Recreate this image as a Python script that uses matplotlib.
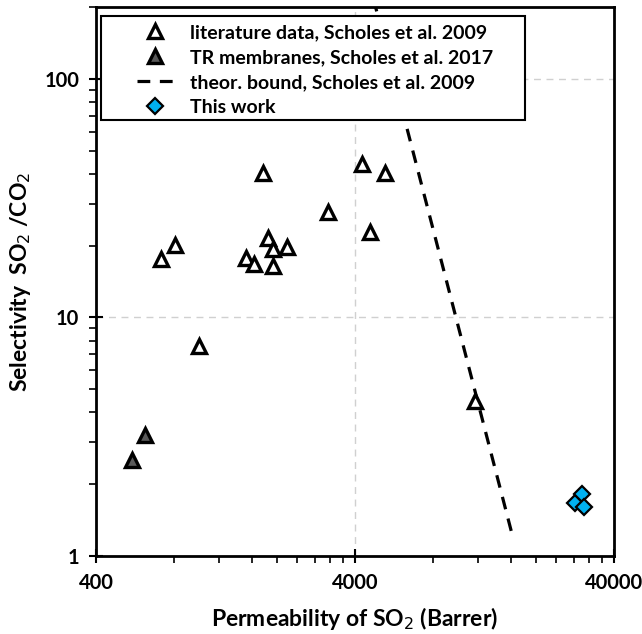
import numpy as np
import matplotlib.pyplot as plt
from matplotlib.patches import Rectangle
from matplotlib.ticker import FixedLocator, NullFormatter

plt.rcParams['font.family'] = ['Lato', 'DejaVu Sans']

# literature data, Scholes et al. 2009
lit_perm = [713, 807, 1000, 1765, 1517, 1629, 1846, 1928, 1928, 2182, 3150, 4256, 5224, 4570, 11620]
lit_sel = [17.6, 20.1, 7.6, 40.3, 17.8, 16.8, 21.5, 19.4, 16.4, 19.8, 27.7, 44.0, 40.3, 22.8, 4.47]

# TR membranes, Scholes et al. 2017
tr_perm = [618, 552]
tr_sel = [3.22, 2.53]

# upper bound line
bound_perm = [4400, 16300]
bound_sel = [290, 1.2]

# this work
tw_perm = [28250, 30250, 30700]
tw_sel = [1.67, 1.82, 1.61]

fig = plt.figure(figsize=(6.42, 6.34), dpi=100)
ax = fig.add_axes([0.1495, 0.123, 0.8065, 0.866])

ax.plot(lit_perm, lit_sel, ls='none', marker='^', ms=10, mfc='white', mec='black', mew=2.4,
        label='literature data, Scholes et al. 2009', zorder=4)
ax.plot(tr_perm, tr_sel, ls='none', marker='^', ms=10, mfc='#595959', mec='black', mew=2.4,
        label='TR membranes, Scholes et al. 2017', zorder=4)
ax.plot(bound_perm, bound_sel, ls=(0, (4, 3)), color='black', lw=2.3,
        label='theor. bound, Scholes et al. 2009', zorder=3)
ax.plot(tw_perm, tw_sel, ls='none', marker='D', ms=8, mfc='#00B0F0', mec='black', mew=1.6,
        label='This work', zorder=5)

ax.set_xscale('log')
ax.set_yscale('log')
ax.set_xlim(400, 40000)
ax.set_ylim(1, 200)

ax.xaxis.set_major_locator(FixedLocator([400, 4000, 40000]))
ax.xaxis.set_minor_locator(FixedLocator([400 * m * 10 ** k for k in range(2) for m in range(2, 10)]))
ax.set_xticklabels(['400', '4000', '40000'])
ax.xaxis.set_minor_formatter(NullFormatter())

ax.yaxis.set_major_locator(FixedLocator([1, 10, 100]))
ax.yaxis.set_minor_locator(FixedLocator([m * 10 ** k for k in range(3) for m in range(2, 10) if m * 10 ** k <= 200]))
ax.set_yticklabels(['1', '10', '100'])
ax.yaxis.set_minor_formatter(NullFormatter())

ax.tick_params(which='major', direction='inout', length=10, width=1.5, labelsize=14.5, pad=7)
ax.tick_params(which='minor', direction='out', length=5, width=1.2)
for lab in ax.get_xticklabels() + ax.get_yticklabels():
    lab.set_fontweight('bold')

for sp in ax.spines.values():
    sp.set_linewidth(2)

ax.grid(True, which='major', ls=(0, (5, 4)), color='#d0d0d0', lw=1)
ax.set_axisbelow(True)

ax.set_xlabel('Permeability of SO$_2$ (Barrer)', fontsize=16.5, fontweight='bold', labelpad=9)
ax.set_ylabel('Selectivity  SO$_2$ /CO$_2$', fontsize=16.5, fontweight='bold', labelpad=8)

# legend without its own frame, the box is drawn separately for wider side margins
leg = fig.legend(*ax.get_legend_handles_labels(), loc='upper left',
                 bbox_to_anchor=(137 / 642, 1 - 24 / 634), fontsize=14, frameon=False,
                 borderpad=0, borderaxespad=0, labelspacing=0.41, handlelength=1.85,
                 handletextpad=0.85)
for t in leg.get_texts():
    t.set_fontweight('bold')
fig.add_artist(Rectangle((101 / 642, 1 - 120 / 634), 424 / 642, 104 / 634,
                         transform=fig.transFigure, fill=True, facecolor='white',
                         edgecolor='black', lw=1.5, zorder=2))
leg.set_zorder(3)

fig.savefig('out.png', dpi=100)
